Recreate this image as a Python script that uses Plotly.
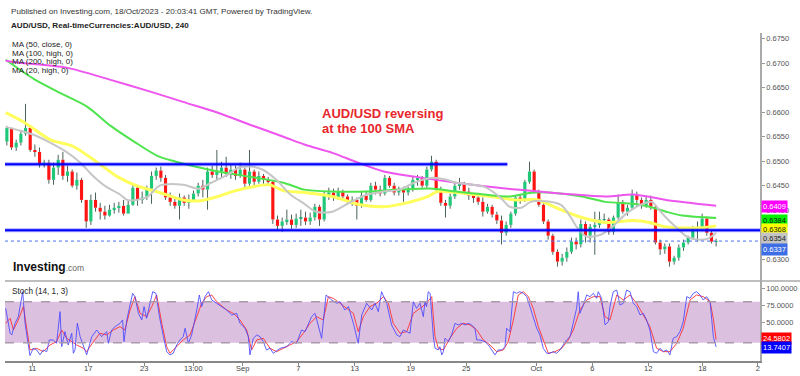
import plotly.graph_objects as go

# ------------------------------------------------------------------ data
# 8-hour candles (each spans two 4h bars); x unit of the chart = one 4h bar
open_first = 0.6540
close = [0.6568, 0.6528, 0.6538, 0.6556, 0.6568, 0.6523, 0.6519, 0.6493, 0.6497, 0.6462,
         0.6487, 0.6503, 0.6470, 0.6479, 0.6450, 0.6462, 0.6421, 0.6377, 0.6421, 0.6405,
         0.6397, 0.6389, 0.6401, 0.6405, 0.6409, 0.6393, 0.6411, 0.6446, 0.6421, 0.6426,
         0.6444, 0.6470, 0.6481, 0.6466, 0.6426, 0.6417, 0.6409, 0.6426, 0.6415, 0.6421,
         0.6434, 0.6450, 0.6442, 0.6479, 0.6472, 0.6479, 0.6487, 0.6474, 0.6483, 0.6470,
         0.6483, 0.6454, 0.6479, 0.6458, 0.6470, 0.6462, 0.6458, 0.6381, 0.6368, 0.6377,
         0.6381, 0.6370, 0.6383, 0.6385, 0.6377, 0.6385, 0.6407, 0.6381, 0.6430, 0.6436,
         0.6426, 0.6438, 0.6428, 0.6417, 0.6421, 0.6409, 0.6430, 0.6421, 0.6450, 0.6442,
         0.6434, 0.6466, 0.6450, 0.6436, 0.6442, 0.6436, 0.6442, 0.6462, 0.6466, 0.6450,
         0.6483, 0.6499, 0.6442, 0.6415, 0.6409, 0.6428, 0.6450, 0.6454, 0.6438, 0.6430,
         0.6426, 0.6417, 0.6397, 0.6407, 0.6391, 0.6379, 0.6354, 0.6370, 0.6393, 0.6426,
         0.6421, 0.6458, 0.6479, 0.6438, 0.6411, 0.6377, 0.6348, 0.6315, 0.6295, 0.6303,
         0.6315, 0.6336, 0.6330, 0.6372, 0.6348, 0.6366, 0.6370, 0.6381, 0.6381, 0.6356,
         0.6385, 0.6415, 0.6397, 0.6405, 0.6432, 0.6421, 0.6409, 0.6421, 0.6407, 0.6334,
         0.6320, 0.6326, 0.6295, 0.6303, 0.6324, 0.6334, 0.6344, 0.6362, 0.6364, 0.6383,
         0.6354, 0.6336, 0.6337]
high = [0.6572, 0.6568, 0.6544, 0.6562, 0.6617, 0.6572, 0.6534, 0.6528, 0.6503, 0.6503,
        0.6497, 0.6513, 0.6519, 0.6491, 0.6483, 0.6477, 0.6466, 0.6421, 0.6432, 0.6436,
        0.6415, 0.6409, 0.6411, 0.6415, 0.6417, 0.6421, 0.6419, 0.6454, 0.6450, 0.6438,
        0.6450, 0.6479, 0.6487, 0.6489, 0.6472, 0.6436, 0.6423, 0.6434, 0.6430, 0.6432,
        0.6440, 0.6456, 0.6462, 0.6487, 0.6491, 0.6523, 0.6499, 0.6509, 0.6493, 0.6491,
        0.6497, 0.6487, 0.6523, 0.6483, 0.6479, 0.6474, 0.6468, 0.6462, 0.6389, 0.6385,
        0.6401, 0.6391, 0.6393, 0.6401, 0.6397, 0.6395, 0.6413, 0.6411, 0.6438, 0.6446,
        0.6444, 0.6446, 0.6442, 0.6432, 0.6428, 0.6426, 0.6438, 0.6440, 0.6456, 0.6458,
        0.6450, 0.6472, 0.6470, 0.6456, 0.6448, 0.6448, 0.6448, 0.6468, 0.6472, 0.6470,
        0.6489, 0.6511, 0.6503, 0.6448, 0.6421, 0.6434, 0.6456, 0.6466, 0.6458, 0.6446,
        0.6434, 0.6430, 0.6426, 0.6413, 0.6411, 0.6397, 0.6389, 0.6377, 0.6397, 0.6430,
        0.6432, 0.6462, 0.6499, 0.6483, 0.6442, 0.6415, 0.6381, 0.6352, 0.6320, 0.6311,
        0.6324, 0.6344, 0.6344, 0.6381, 0.6377, 0.6372, 0.6397, 0.6397, 0.6393, 0.6385,
        0.6389, 0.6432, 0.6421, 0.6411, 0.6442, 0.6438, 0.6426, 0.6428, 0.6430, 0.6411,
        0.6340, 0.6332, 0.6332, 0.6307, 0.6330, 0.6340, 0.6348, 0.6368, 0.6377, 0.6393,
        0.6387, 0.6358, 0.6342]
low = [0.6532, 0.6523, 0.6521, 0.6532, 0.6552, 0.6519, 0.6509, 0.6487, 0.6487, 0.6454,
       0.6452, 0.6472, 0.6462, 0.6458, 0.6446, 0.6442, 0.6415, 0.6364, 0.6370, 0.6397,
       0.6381, 0.6381, 0.6387, 0.6393, 0.6395, 0.6389, 0.6393, 0.6409, 0.6409, 0.6413,
       0.6421, 0.6413, 0.6462, 0.6458, 0.6421, 0.6409, 0.6403, 0.6381, 0.6409, 0.6403,
       0.6417, 0.6428, 0.6426, 0.6401, 0.6466, 0.6462, 0.6466, 0.6468, 0.6464, 0.6462,
       0.6466, 0.6446, 0.6450, 0.6450, 0.6454, 0.6454, 0.6452, 0.6372, 0.6358, 0.6356,
       0.6370, 0.6362, 0.6364, 0.6368, 0.6370, 0.6370, 0.6379, 0.6368, 0.6377, 0.6421,
       0.6419, 0.6421, 0.6421, 0.6411, 0.6409, 0.6381, 0.6405, 0.6417, 0.6417, 0.6432,
       0.6428, 0.6430, 0.6446, 0.6430, 0.6430, 0.6417, 0.6430, 0.6438, 0.6450, 0.6446,
       0.6446, 0.6479, 0.6438, 0.6409, 0.6385, 0.6403, 0.6423, 0.6442, 0.6434, 0.6421,
       0.6415, 0.6411, 0.6387, 0.6393, 0.6385, 0.6372, 0.6330, 0.6348, 0.6364, 0.6389,
       0.6413, 0.6417, 0.6454, 0.6434, 0.6407, 0.6372, 0.6340, 0.6309, 0.6285, 0.6287,
       0.6295, 0.6311, 0.6320, 0.6324, 0.6334, 0.6334, 0.6309, 0.6364, 0.6377, 0.6350,
       0.6350, 0.6381, 0.6393, 0.6389, 0.6401, 0.6409, 0.6403, 0.6405, 0.6401, 0.6330,
       0.6309, 0.6311, 0.6285, 0.6289, 0.6297, 0.6317, 0.6330, 0.6340, 0.6336, 0.6358,
       0.6348, 0.6332, 0.6326]

# moving averages (x in 4h-bar index)
ma50_x = [0, 8, 19, 29, 40, 48, 56, 66, 76, 83, 91, 97, 106, 113, 119, 128, 140, 152, 162, 172,
          181, 185, 193, 208, 219, 228, 236, 247, 257, 269, 276, 283, 298, 304.5]
ma50_y = [0.6599, 0.6579, 0.6544, 0.6530, 0.6495, 0.6468, 0.6450, 0.6436, 0.6421, 0.6419,
          0.6428, 0.6438, 0.6448, 0.6452, 0.6440, 0.6436, 0.6428, 0.6411, 0.6407, 0.6415,
          0.6428, 0.6438, 0.6436, 0.6428, 0.6421, 0.6421, 0.6405, 0.6385, 0.6375, 0.6379,
          0.6375, 0.6366, 0.6364, 0.6368]
ma100_x = [0, 12, 23, 35, 45, 55, 65, 73, 83, 91, 105, 119, 128, 140, 155, 169, 183, 193, 205, 216,
           226, 233, 247, 257, 269, 276, 283, 290, 304.5]
ma100_y = [0.6707, 0.6668, 0.6640, 0.6611, 0.6572, 0.6540, 0.6511, 0.6499, 0.6487, 0.6479,
           0.6468, 0.6456, 0.6442, 0.6438, 0.6438, 0.6442, 0.6444, 0.6438, 0.6432, 0.6428,
           0.6436, 0.6436, 0.6428, 0.6417, 0.6413, 0.6407, 0.6397, 0.6389, 0.6384]
ma200_x = [0, 6, 26, 45, 62, 76, 91, 105, 119, 128, 140, 151, 162, 176, 193, 219, 257, 269, 283, 304.5]
ma200_y = [0.6705, 0.6701, 0.6691, 0.6666, 0.6642, 0.6621, 0.6599, 0.6574, 0.6550, 0.6534,
           0.6517, 0.6497, 0.6479, 0.6468, 0.6456, 0.6442, 0.6428, 0.6432, 0.6421, 0.6409]
ma20_x = [0, 5, 12, 19, 26, 32, 37, 43, 49, 52, 56, 61, 66, 76, 83, 88, 95, 100, 105, 110,
          116, 122, 128, 133, 140, 148, 155, 162, 169, 175, 183, 189, 193, 205, 212, 216, 221, 225, 230, 238,
          242, 245, 249, 255, 260, 266, 272, 277, 280, 283, 288, 292, 296, 301, 304.5]
ma20_y = [0.6570, 0.6564, 0.6554, 0.6538, 0.6519, 0.6497, 0.6472, 0.6448, 0.6432, 0.6421,
          0.6421, 0.6428, 0.6450, 0.6452, 0.6444, 0.6456, 0.6472, 0.6487, 0.6489, 0.6483,
          0.6462, 0.6432, 0.6413, 0.6397, 0.6397, 0.6417, 0.6432, 0.6438, 0.6442, 0.6456,
          0.6466, 0.6462, 0.6456, 0.6448, 0.6426, 0.6407, 0.6405, 0.6417, 0.6419, 0.6411,
          0.6387, 0.6364, 0.6346, 0.6350, 0.6366, 0.6393, 0.6411, 0.6417, 0.6401, 0.6385,
          0.6362, 0.6346, 0.6340, 0.6342, 0.6354]

# Stochastic (14, 1, 3): %K (blue) and %D (red)
k_x = [0, 1.9, 2.6, 4.0, 5.4, 6.4, 7.3, 8.3, 9.7, 10.4,
       11.8, 13.3, 14.7, 16.1, 17.6, 18.7, 20.4, 21.8, 23.3, 24.0,
       25.4, 26.8, 28.3, 29.0, 29.7, 30.7, 31.9, 34.0, 34.7, 36.9,
       39.0, 41.1, 43.3, 44.0, 45.4, 46.9, 49.0, 50.1, 50.7, 51.9,
       53.3, 54.4, 55.4, 56.9, 58.3, 59.3, 60.4, 61.9, 63.0, 64.4,
       65.9, 67.6, 69.0, 70.4, 71.8, 73.3, 74.7, 76.1, 76.9, 78.3,
       79.7, 81.9, 83.0, 84.0, 85.4, 86.9, 88.3, 90.4, 92.6, 94.7,
       96.9, 99.0, 100.4, 102.6, 104.0, 104.7, 106.1, 107.6, 109.0, 110.4,
       111.8, 113.3, 114.7, 117.6, 120.4, 122.6, 124.7, 126.8, 128.3, 129.7,
       131.1, 132.6, 135.4, 137.3, 139.7, 141.9, 143.3, 145.4, 146.9, 149.0,
       151.1, 152.6, 154.7, 156.9, 158.3, 159.7, 161.1, 163.3, 165.4, 167.6,
       169.0, 170.4, 171.9, 173.3, 174.7, 176.1, 177.6, 178.3, 179.0, 179.7,
       180.4, 181.1, 181.9, 183.3, 184.0, 185.4, 186.1, 186.9, 187.6, 188.3,
       189.7, 191.1, 192.6, 194.0, 195.4, 196.9, 198.3, 199.7, 201.1, 201.9,
       203.3, 205.4, 206.9, 208.3, 209.7, 211.1, 212.6, 214.0, 214.7, 216.1,
       217.6, 219.0, 220.4, 221.9, 223.3, 224.7, 226.1, 227.6, 229.0, 230.4,
       231.9, 233.3, 234.7, 236.1, 237.6, 239.0, 240.4, 241.9, 243.3, 244.7,
       245.4, 246.1, 247.6, 249.0, 250.4, 251.9, 253.3, 254.0, 255.4, 256.9,
       258.3, 259.0, 260.4, 261.9, 263.3, 264.7, 266.1, 267.6, 269.0, 270.4,
       271.9, 273.3, 274.7, 276.1, 277.6, 279.0, 280.4, 281.9, 283.3, 284.7,
       286.1, 287.6, 289.0, 290.4, 291.9, 293.3, 294.7, 296.1, 297.6, 299.0,
       300.4, 301.9, 303.3, 304.5]
k_v = [70.2, 33.7, 31.2, 48.3, 58.0, 77.6, 94.6, 48.3, 14.1, 1.0,
       11.7, 9.3, 2.0, 9.3, 6.8, 23.9, 23.9, 19.0, 65.4, 14.1,
       36.1, 16.6, 33.7, 4.4, 9.3, 48.3, 28.8, 6.8, 2.0, 28.8,
       38.5, 28.8, 36.1, 19.0, 38.5, 43.4, 48.3, 53.2, 21.5, 53.2,
       77.6, 92.2, 87.3, 62.9, 53.2, 72.7, 55.6, 77.6, 94.6, 92.2,
       58.0, 28.8, 6.8, 2.0, 4.4, 16.6, 23.9, 28.8, 41.0, 19.0,
       31.2, 67.8, 89.8, 72.7, 87.3, 94.6, 82.4, 77.6, 72.7, 67.8,
       60.5, 62.9, 48.3, 41.0, 28.8, 2.0, 26.3, 31.2, 28.8, 21.5,
       9.3, 11.7, 4.4, 11.7, 14.1, 21.5, 19.0, 38.5, 36.1, 48.3,
       58.0, 62.9, 26.3, 89.8, 82.4, 77.6, 80.0, 67.8, 72.7, 48.3,
       19.0, 60.5, 77.6, 67.8, 77.6, 65.4, 94.6, 77.6, 45.9, 31.2,
       28.8, 38.5, 36.1, 33.7, 80.0, 70.2, 77.6, 67.8, 58.0, 80.0,
       72.7, 94.6, 92.2, 28.8, 11.7, 9.3, 14.1, 2.0, 6.8, 26.3,
       21.5, 31.2, 48.3, 45.9, 48.3, 45.9, 48.3, 45.9, 41.0, 23.9,
       23.9, 21.5, 16.6, 9.3, 2.0, 9.3, 9.3, 14.1, 41.0, 36.1,
       94.6, 92.2, 94.6, 92.2, 87.3, 72.7, 58.0, 41.0, 31.2, 11.7,
       4.4, 4.4, 6.8, 4.4, 9.3, 16.6, 23.9, 28.8, 48.3, 70.2,
       94.6, 62.9, 75.1, 89.8, 87.3, 92.2, 84.9, 94.6, 84.9, 45.9,
       50.7, 72.7, 94.6, 97.0, 75.1, 77.6, 97.0, 94.6, 77.6, 72.7,
       60.5, 62.9, 53.2, 38.5, 6.8, 4.4, 11.7, 6.8, 9.3, 2.0,
       26.3, 28.8, 36.1, 50.7, 87.3, 84.9, 92.2, 94.6, 89.8, 82.4,
       87.3, 80.0, 28.8, 13.74]
d_x = [0, 1.9, 3.3, 5.4, 7.6, 9.0, 10.4, 13.3, 16.1, 19.0,
       21.8, 24.0, 26.1, 28.3, 30.4, 33.3, 34.7, 37.6, 40.4, 43.3,
       46.1, 49.0, 51.1, 53.3, 55.4, 57.6, 60.4, 62.6, 64.7, 66.9,
       69.0, 70.4, 73.3, 76.1, 79.0, 81.9, 84.0, 86.1, 88.3, 90.4,
       94.7, 97.6, 100.4, 103.3, 105.4, 107.6, 110.4, 113.3, 116.1, 119.0,
       121.9, 124.7, 127.6, 130.4, 133.3, 136.1, 138.3, 140.4, 143.3, 146.1,
       149.0, 151.1, 153.3, 156.1, 159.0, 161.9, 164.0, 166.1, 168.3,
       169.0, 171.9, 174.7, 177.6, 180.4, 182.6, 184.0, 185.4, 187.6, 190.4,
       193.3, 196.1, 199.0, 201.9, 204.7, 207.6, 210.4, 213.3, 215.4, 217.6,
       219.7, 221.9, 224.0, 226.1, 228.3, 230.4, 232.6, 235.4, 238.3, 241.1,
       243.3, 246.1, 249.0, 251.9, 254.7, 256.9, 259.0, 261.9, 264.7, 267.6,
       270.4, 273.3, 276.1, 279.0, 281.9, 284.7, 287.6, 290.4, 293.3, 296.1,
       299.0, 301.9, 303.3, 304.5]
d_v = [48.3, 55.6, 38.5, 53.2, 72.7, 43.4, 9.3, 11.7, 6.8, 16.6,
       21.5, 38.5, 26.3, 21.5, 16.6, 11.7, 6.8, 21.5, 33.7, 31.2,
       38.5, 43.4, 38.5, 67.8, 87.3, 62.9, 58.0, 72.7, 89.8, 48.3,
       14.1, 4.4, 14.1, 23.9, 31.2, 58.0, 77.6, 87.3, 89.8, 80.0,
       67.8, 62.9, 53.2, 38.5, 9.3, 23.9, 26.3, 11.7, 6.8, 11.7,
       16.6, 21.5, 33.7, 48.3, 58.0, 53.2, 87.3, 84.9, 77.6, 70.2,
       62.9, 36.1, 58.0, 72.7, 77.6, 87.3, 77.6, 48.3, 36.1,
       33.7, 36.1, 62.9, 70.2, 77.6, 87.3, 28.8, 11.7, 9.3, 26.3,
       41.0, 48.3, 45.9, 38.5, 23.9, 16.6, 6.8, 9.3, 21.5, 53.2,
       89.8, 94.6, 87.3, 70.2, 43.4, 23.9, 4.4, 6.8, 11.7, 23.9,
       38.5, 67.8, 82.4, 87.3, 87.3, 58.0, 53.2, 89.8, 82.4, 89.8,
       77.6, 60.5, 43.4, 11.7, 6.8, 6.8, 19.0, 41.0, 82.4, 89.8,
       87.3, 80.0, 55.0, 24.58]

tick_pos = [11.4, 35.4, 59.4, 80.4, 101.6, 125.4, 149.6, 173.6, 197.4, 227.4, 251.4, 275.4, 298.6, 322.4]
tick_txt = ["11", "17", "23", "13:00", "Sep", "7", "13", "19", "25", "Oct", "6", "12", "18", "2"]
price_ticks = [0.6300, 0.6350, 0.6400, 0.6450, 0.6500, 0.6550, 0.6600, 0.6650, 0.6700, 0.6750]
# 0.6350 sits fully under the price tags in the original, so its text is not shown
price_labels = ["0.6300", "", "0.6400", "0.6450", "0.6500", "0.6550", "0.6600", "0.6650", "0.6700", "0.6750"]

resistance = 0.6494
support = 0.6359
last_price = 0.6337
last_k, last_d = 13.7407, 24.5802
ma_last = {"ma200": 0.6409, "ma100": 0.6384, "ma50": 0.6368, "ma20": 0.6354}

# ------------------------------------------------------------------ build
FONT = "Liberation Sans, Arial, sans-serif"
UP, DOWN, WICK = "#1fc879", "#ff1414", "#4b6358"

n = len(close)
bar_x = [2 * j + 0.5 for j in range(n)]
opens = [open_first] + close[:-1]
base, height, colors, wx, wy = [], [], [], [], []
for x, o, c, h, l in zip(bar_x, opens, close, high, low):
    top, bot = max(o, c), min(o, c)
    base.append(bot)
    height.append(max(top - bot, 0.00005))
    colors.append(UP if c >= o else DOWN)
    wx += [x, x, None, x, x, None]
    wy += [max(h, top), top, None, bot, min(l, bot), None]

fig = go.Figure()
fig.add_trace(go.Scatter(x=wx, y=wy, mode="lines", line=dict(color=WICK, width=1),
                         hoverinfo="skip", xaxis="x", yaxis="y"))
fig.add_trace(go.Bar(x=bar_x, y=height, base=base, width=1.35, marker=dict(color=colors, line=dict(width=0)),
                     xaxis="x", yaxis="y"))
for xs, ys, col, w in [(ma50_x, ma50_y, "#ffff5c", 3), (ma100_x, ma100_y, "#4ee44e", 2),
                       (ma200_x, ma200_y, "#ee55ee", 2), (ma20_x, ma20_y, "#c6c6c6", 2)]:
    fig.add_trace(go.Scatter(x=xs, y=ys, mode="lines", line=dict(color=col, width=w, shape="spline", smoothing=0.8),
                             xaxis="x", yaxis="y", hoverinfo="skip"))
fig.add_trace(go.Scatter(x=d_x, y=d_v, mode="lines", line=dict(color="rgba(255,50,50,0.9)", width=1),
                         xaxis="x2", yaxis="y2"))
fig.add_trace(go.Scatter(x=k_x, y=k_v, mode="lines", line=dict(color="rgba(70,70,255,0.85)", width=1),
                         xaxis="x2", yaxis="y2"))

# pixel helpers for page furniture (plot area spans x 5..760, y 33..361)
def px(xp):
    return (xp - 5) / 755.0

def py(yp):
    return (361 - yp) / 328.0

SPLIT = py(281)

shapes = [
    dict(type="rect", xref="paper", yref="y2", x0=0, x1=1, y0=20, y1=80, fillcolor="#dcc0e0",
         line=dict(width=0), layer="below"),
    dict(type="line", xref="paper", yref="y2", x0=0, x1=1, y0=80, y1=80, line=dict(color="#a99aa9", width=1.5, dash="dash")),
    dict(type="line", xref="paper", yref="y2", x0=0, x1=1, y0=20, y1=20, line=dict(color="#a99aa9", width=1.5, dash="dash")),
    dict(type="line", xref="paper", yref="paper", x0=0, x1=px(800), y0=SPLIT, y1=SPLIT, line=dict(color="#a8a8a8", width=1.5)),
    dict(type="line", xref="paper", yref="y", x0=0, x1=1, y0=last_price, y1=last_price,
         line=dict(color="#4a72f0", width=1, dash="dot")),
]
for y0, x1ref, x1 in [(resistance, "x", 215), (support, "paper", 1)]:
    for col, w in [("rgba(0,0,255,0.35)", 4), ("#0000ff", 2)]:
        shapes.append(dict(type="line", xref=x1ref, yref="y", x0=(-0.3 if x1ref == "x" else 0), x1=x1,
                           y0=y0, y1=y0, line=dict(color=col, width=w)))

ann = []
def text(xp, yp, s, size, color="#222", anchor="left"):
    ann.append(dict(xref="paper", yref="paper", x=px(xp), y=py(yp), text=s, showarrow=False,
                    xanchor=anchor, yanchor="middle", font=dict(family=FONT, size=size, color=color)))

text(9, 11.5, "Published on Investing.com, 18/Oct/2023 - 20:03:41 GMT, Powered by TradingView.", 8.1, "#333")
text(9, 25.5, "<b>AUD/USD, Real-timeCurrencies:AUD/USD, 240</b>", 8.1, "#222")
for i, s in enumerate(["MA (50, close, 0)", "MA (100, high, 0)", "MA (200, high, 0)", "MA (20, high, 0)"]):
    text(10, 44.3 + 8.7 * i, s, 8, "#222")
text(320, 113.5, "<b>AUD/USD reversing</b>", 13, "#e8262d")
text(320, 128.5, "<b>at the 100 SMA</b>", 13, "#e8262d")
text(11, 266.5, "<b>Investing</b><span style='font-size:8.5px;color:#666'>.com</span>", 12, "#111")
text(10, 291, "Stoch (14, 1, 3)", 8.2, "#222")

def tag(yval, yref, s, bg, fg, shift=0):
    ann.append(dict(xref="paper", yref=yref, x=px(761), y=yval, yshift=shift, text=s, showarrow=False,
                    xanchor="left", yanchor="middle", bgcolor=bg, borderpad=1,
                    font=dict(family=FONT, size=7.5, color=fg)))

tag(ma_last["ma200"], "y", "%.4f" % ma_last["ma200"], "#ff00ff", "#ffffff", -0.5)
tag(ma_last["ma100"], "y", "%.4f" % ma_last["ma100"], "#00f000", "#102010", -2.5)
tag(ma_last["ma50"], "y", "%.4f" % ma_last["ma50"], "#ffff00", "#222222", -3.5)
tag(ma_last["ma20"], "y", "%.4f" % ma_last["ma20"], "#c4c4c4", "#222222", -6)
tag(last_price, "y", "%.4f" % last_price, "#3d6ee6", "#ffffff", -8)
tag(last_d, "y2", "%.4f" % last_d, "#ff0000", "#ffffff", 1.5)
tag(last_k, "y2", "%.4f" % last_k, "#0000ff", "#ffffff", -1)

axis_font = dict(family=FONT, size=7.5, color="#555")
fig.update_layout(
    width=800, height=376, autosize=False,
    margin=dict(l=5, r=40, t=33, b=15, pad=0),
    paper_bgcolor="white", plot_bgcolor="white",
    showlegend=False, barmode="overlay",
    font=dict(family=FONT),
    xaxis=dict(domain=[0, 1], range=[-0.3, 323.3], anchor="y", showticklabels=False, showgrid=False,
               zeroline=False, showline=False, ticks="", automargin=False),
    xaxis2=dict(domain=[0, 1], matches="x", anchor="y2", tickvals=tick_pos, ticktext=tick_txt,
                ticks="outside", ticklen=3, tickcolor="#888", showline=True, linecolor="#888", linewidth=1.5,
                showgrid=False, zeroline=False, automargin=False, ticklabelstandoff=-4,
                tickfont=dict(family=FONT, size=7.5, color="#444")),
    yaxis=dict(domain=[SPLIT, 1], anchor="x", side="right", range=[0.625551, 0.676163],
               tickvals=price_ticks, ticktext=price_labels,
               ticks="outside", ticklen=3, tickcolor="#999", showline=True, linecolor="#aaa", linewidth=1.5,
               showgrid=False, zeroline=False, tickfont=axis_font, automargin=False),
    yaxis2=dict(domain=[0, SPLIT], anchor="x2", side="right", range=[-6.9, 110.25],
                tickvals=[50, 75, 100], ticktext=["50.0000", "75.0000", "100.0000"],
                ticks="outside", ticklen=3, tickcolor="#999", showline=True, linecolor="#aaa", linewidth=1.5,
                showgrid=False, zeroline=False, tickfont=axis_font, automargin=False),
    shapes=shapes, annotations=ann,
)

fig.write_html("out.html")
